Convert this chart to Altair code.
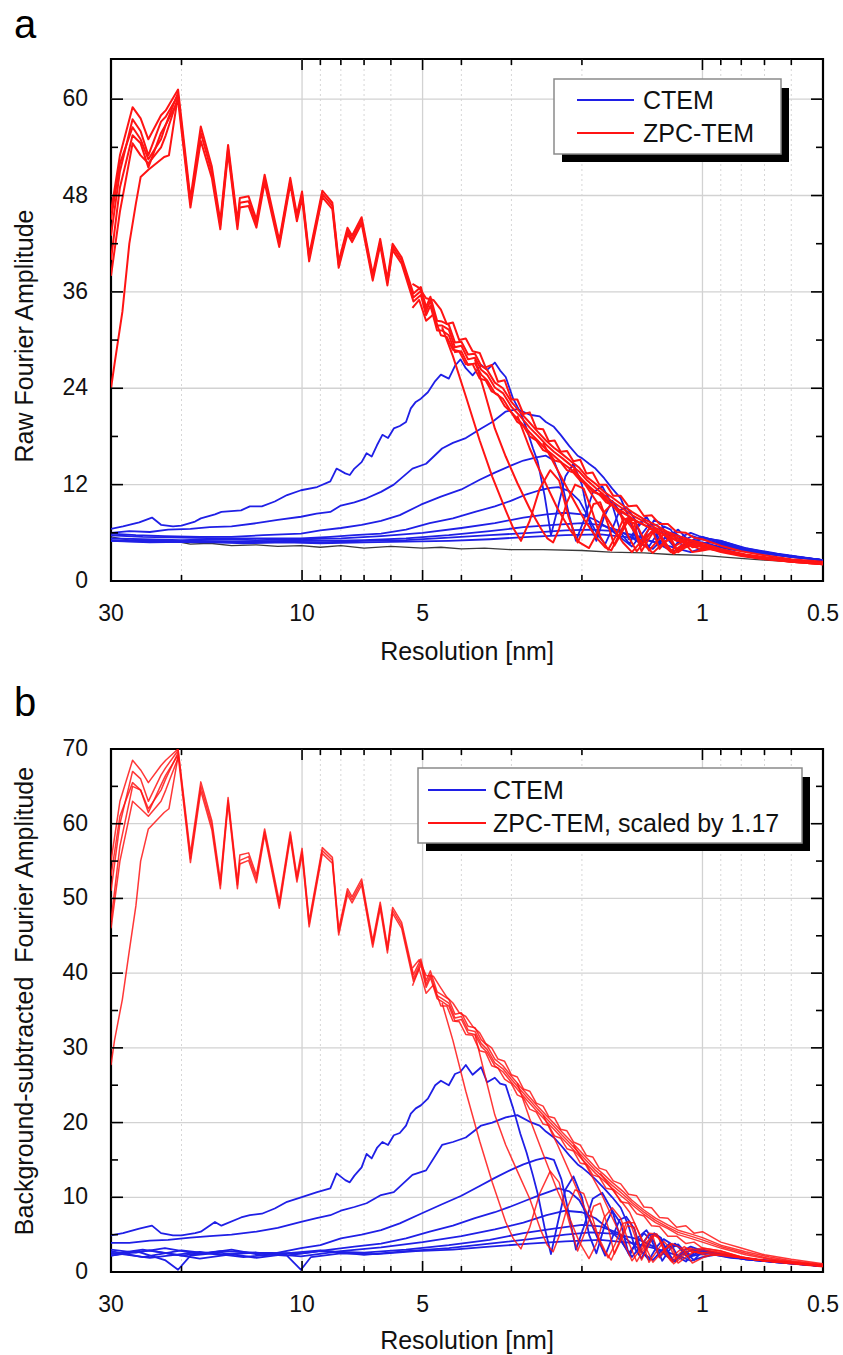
import altair as alt
import pandas as pd

FONT = "Liberation Sans"
BLUE = "#1f1fe6"
RED = "#ff1414"
BLACK = "#3a3a3a"
TXT = "#111111"

# ---------------- axis values ----------------
X_LABELS = [30, 10, 5, 1, 0.5]
X_TICK_LONG = [10, 5, 1]
X_TICK_SHORT = [20, 9, 8, 7, 6, 4, 3, 2, 0.9, 0.8, 0.7, 0.6]
X_GRID_SOLID = [10, 5, 1]
X_GRID_DOTTED = [20, 9, 8, 7, 6, 4, 3, 2, 0.9, 0.8, 0.7, 0.6]
YA_MAJOR = [0, 12, 24, 36, 48, 60]
YA_MINOR = [6, 18, 30, 42, 54]
YB_MAJOR = [0, 10, 20, 30, 40, 50, 60, 70]
YB_MINOR = [5, 15, 25, 35, 45, 55, 65]

# ---------------- shared resolution grids (nm) ----------------
RES_BUNDLE = [30, 28.5, 26.5, 25.3, 24.2, 22.5, 21.9, 20.4, 19.0, 17.9, 16.8, 16.0, 15.3, 14.5, 14.3,
              13.6, 13.0, 12.4, 11.4, 10.7, 10.3, 10.0, 9.6, 8.9, 8.4, 8.1, 7.7, 7.5, 7.1, 6.66,
              6.38, 6.12, 5.94, 5.64, 5.27, 5.05, 4.9, 4.78, 4.6, 4.47, 4.3, 4.15, 4.0, 3.85, 3.7,
              3.57, 3.45, 3.3, 3.15, 3.0, 2.85, 2.7, 2.58, 2.46, 2.35, 2.24, 2.13, 2.03, 1.94, 1.85,
              1.76, 1.68, 1.58, 1.50, 1.40, 1.31, 1.22, 1.15, 1.07, 1.0, 0.9, 0.78, 0.68, 0.6, 0.5]
RES_JITTER = [5.3, 5.1, 4.9, 4.7, 4.5, 4.35, 4.2, 4.05, 3.9, 3.75, 3.6, 3.48, 3.36, 3.24, 3.12, 3.0,
              2.9, 2.8, 2.7, 2.6, 2.5, 2.42, 2.34, 2.26, 2.18, 2.1, 2.02, 1.95, 1.88, 1.81, 1.74,
              1.67, 1.6, 1.53, 1.46, 1.4, 1.34, 1.28, 1.22, 1.16, 1.1, 1.05, 1.0, 0.9, 0.8, 0.7,
              0.6, 0.5]
RES_LOW = [30, 29.4, 28.1, 27.0, 26.0, 25.3, 24.2, 22.1, 21.5, 20.4]
RES_SPREAD = [30, 28.5, 26.5, 25.3, 24.2, 22.5, 21.9, 20.4]
RES_Z1 = [4.47, 4.2, 3.9, 3.6, 3.35, 3.1, 2.97, 2.84, 2.7, 2.55, 2.4, 2.28, 2.16, 2.05, 1.96, 1.87,
          1.8, 1.72, 1.66, 1.6, 1.54, 1.48, 1.43, 1.38, 1.33, 1.28, 1.24, 1.2, 1.16, 1.12, 1.08, 1.04,
          1.0, 0.9, 0.8, 0.7, 0.6, 0.5]
RES_Z2 = [3.7, 3.5, 3.3, 3.1, 2.9, 2.7, 2.53, 2.44, 2.36, 2.28, 2.18, 2.08, 1.98, 1.88, 1.8, 1.72,
          1.65, 1.58, 1.52, 1.47, 1.42, 1.37, 1.32, 1.28, 1.24, 1.2, 1.16, 1.11, 1.06, 1.0, 0.9, 0.8,
          0.7, 0.6, 0.5]
RES_Z3 = [2.9, 2.7, 2.5, 2.3, 2.15, 2.03, 1.92, 1.84, 1.76, 1.68, 1.6, 1.53, 1.46, 1.4, 1.34, 1.29,
          1.24, 1.19, 1.14, 1.1, 1.06, 1.02, 0.95, 0.85, 0.75, 0.65, 0.5]
RES_Z4 = [2.5, 2.3, 2.12, 1.97, 1.84, 1.75, 1.69, 1.62, 1.55, 1.48, 1.42, 1.36, 1.3, 1.25, 1.2, 1.15,
          1.1, 1.05, 1.0, 0.92, 0.8, 0.7, 0.6, 0.5]
RES_Z5 = [2.1, 1.95, 1.8, 1.68, 1.58, 1.5, 1.43, 1.36, 1.3, 1.24, 1.18, 1.13, 1.08, 1.03, 0.98, 0.9,
          0.8, 0.7, 0.6, 0.5]
RES_Z6 = [1.8, 1.65, 1.52, 1.42, 1.33, 1.26, 1.19, 1.12, 1.06, 1.0, 0.95, 0.9, 0.8, 0.7, 0.6, 0.5]
RES_C1 = [30, 28, 25.5, 23.7, 22.5, 21, 20, 18.5, 17.9, 16.5, 15.9, 14.2, 13.5, 12.6, 11.7, 10.9,
          10.06, 9.17, 8.5, 8.2, 7.8, 7.6, 7.4, 7.1, 6.9, 6.7, 6.5, 6.3, 6.1, 5.9, 5.7, 5.5, 5.35,
          5.2, 5.05, 4.85, 4.65, 4.5, 4.3, 4.15, 4.02, 3.9, 3.75, 3.57, 3.45, 3.3, 3.2, 3.1, 2.97,
          2.85, 2.75, 2.65, 2.58, 2.48, 2.39, 2.3, 2.2, 2.1, 2.0, 1.92, 1.84, 1.76, 1.68, 1.6, 1.53,
          1.46, 1.4, 1.34, 1.28, 1.22, 1.17, 1.12, 1.06, 1.0, 0.9, 0.8, 0.7, 0.6, 0.5]
RES_C2 = [30, 27, 24, 21.6, 19, 17, 15, 13, 11.5, 10.06, 9.2, 8.5, 8.0, 7.4, 6.9, 6.35, 5.9, 5.3,
          4.9, 4.47, 4.2, 3.9, 3.57, 3.35, 3.1, 2.9, 2.7, 2.55, 2.46, 2.35, 2.26, 2.15, 2.05, 2.0,
          1.92, 1.85, 1.76, 1.68, 1.6, 1.53, 1.47, 1.42, 1.37, 1.32, 1.27, 1.22, 1.17, 1.12, 1.07,
          1.02, 0.96, 0.9, 0.8, 0.7, 0.6, 0.5]
RES_C3 = [30, 26, 22, 18, 15, 12.5, 10.06, 9.0, 8.0, 7.1, 6.35, 5.7, 5.05, 4.5, 4.0, 3.6, 3.3, 3.0,
          2.8, 2.6, 2.46, 2.35, 2.25, 2.16, 2.07, 1.98, 1.88, 1.78, 1.68, 1.6, 1.52, 1.45, 1.38,
          1.32, 1.26, 1.2, 1.15, 1.1, 1.05, 1.0, 0.9, 0.78, 0.65, 0.5]
RES_C4 = [30, 25, 20, 16, 13, 10.06, 8.5, 7.4, 6.35, 5.5, 4.8, 4.2, 3.7, 3.3, 3.0, 2.75, 2.55, 2.4,
          2.29, 2.15, 2.03, 1.92, 1.83, 1.75, 1.68, 1.61, 1.55, 1.48, 1.42, 1.36, 1.3, 1.25, 1.2,
          1.15, 1.1, 1.05, 1.0, 0.9, 0.78, 0.65, 0.5]
RES_C5 = [30, 25, 20, 16, 13, 10.06, 8.0, 6.35, 5.0, 4.0, 3.3, 2.8, 2.45, 2.2, 2.0, 1.85, 1.72, 1.6,
          1.5, 1.43, 1.36, 1.3, 1.24, 1.18, 1.12, 1.06, 1.0, 0.9, 0.78, 0.65, 0.5]
RES_C6 = [30, 24, 18, 14, 11, 9, 7, 5.5, 4.3, 3.4, 2.8, 2.35, 2.0, 1.8, 1.62, 1.48, 1.4, 1.33, 1.27,
          1.21, 1.15, 1.09, 1.03, 0.95, 0.85, 0.72, 0.6, 0.5]
RES_C7 = [30, 24, 18, 14, 11, 9, 7, 5.5, 4.3, 3.4, 2.7, 2.2, 1.9, 1.65, 1.45, 1.3, 1.22, 1.18, 1.12,
          1.06, 1.0, 0.93, 0.85, 0.72, 0.6, 0.5]
RES_C8A = [30, 24, 18, 14, 11, 9, 7, 5.5, 4.3, 3.4, 2.7, 2.2, 1.8, 1.5, 1.3, 1.15, 1.07, 1.0, 0.93,
           0.85, 0.72, 0.6, 0.5]
RES_C8B = [30, 26, 22, 20.4, 19, 16, 13, 11, 10.06, 9.5, 8, 6.5, 5.2, 4.2, 3.4, 2.7, 2.2, 1.8, 1.5,
           1.3, 1.15, 1.07, 1.0, 0.93, 0.85, 0.72, 0.6, 0.5]
RES_BG = [30, 27, 24, 21, 19, 17, 15, 13, 11.5, 10.06, 9.0, 8.0, 7.0, 6.0, 5.0, 4.5, 4.0, 3.5, 3.0,
          2.5, 2.0, 1.7, 1.4, 1.2, 1.0, 0.85, 0.7, 0.6, 0.5]

# ---------------- panel a: raw amplitudes ----------------
A_ZPC_1 = [46, 53, 59.0, 57.6, 55.0, 58.0, 58.6, 61.2, 47.6, 56.6, 51.6, 44.8, 54.3, 44.8, 47.7, 47.9,
           45.0, 50.6, 42.4, 50.2, 45.6, 48.5, 40.6, 48.6, 47.1, 39.8, 44.0, 43.0, 45.3, 38.2, 42.6,
           37.6, 42.0, 40.3, 35.8, 36.6, 34.1, 35.4, 32.4, 32.3, 31.9, 29.7, 29.8, 28.2, 28.3, 26.8,
           26.3, 24.7, 24.0, 22.3, 21.0, 19.7, 18.6, 17.5, 16.6, 15.8, 14.9, 14.1, 12.9, 12.1, 11.1,
           10.4, 9.4, 8.6, 7.7, 7.0, 6.1, 5.6, 5.1, 4.7, 4.0, 3.3, 2.9, 2.6, 2.3]
A_ZPC_2 = [43, 51, 57.5, 56, 53, 57.2, 57.8, 60.5, 47, 55.8, 50.9, 44.3, 53.8, 44.3, 47.1, 47.3,
           44.5, 50.1, 42.0, 49.8, 45.2, 48.1, 40.2, 48.2, 46.7, 39.4, 43.6, 42.6, 44.9, 37.8, 42.2,
           37.2, 41.6, 39.9, 35.3, 36.1, 33.6, 34.9, 31.8, 31.8, 31.3, 29.1, 29.3, 27.6, 27.8, 26.3,
           25.7, 24.1, 23.4, 21.7, 20.5, 19.1, 18.1, 17.0, 16.1, 15.3, 14.4, 13.6, 12.5, 11.6, 10.7,
           9.9, 9.0, 8.2, 7.4, 6.6, 5.9, 5.3, 4.9, 4.5, 3.9, 3.2, 2.8, 2.5, 2.2]
A_ZPC_3 = [40, 49, 55.5, 54.5, 51.5, 55.8, 56.8, 59.8, 46.5, 54.8, 50.2, 43.8, 53.3, 43.8, 46.5, 46.7,
           44.0, 49.6, 41.6, 49.4, 44.8, 47.7, 39.8, 47.8, 46.3, 39.0, 43.2, 42.2, 44.5, 37.4, 41.8,
           36.8, 41.2, 39.5, 34.8, 35.6, 33.1, 34.3, 31.2, 31.2, 30.6, 28.5, 28.6, 26.9, 27.1, 25.7,
           25.0, 23.4, 22.7, 21.0, 19.8, 18.5, 17.5, 16.4, 15.6, 14.7, 13.9, 13.0, 12.0, 11.1, 10.3,
           9.4, 8.6, 7.8, 7.0, 6.3, 5.6, 5.0, 4.6, 4.3, 3.7, 3.1, 2.7, 2.4, 2.1]
A_ZPC_J1 = [37.0, 36.5, 35.2, 35.0, 33.8, 32.0, 32.2, 30.0, 30.2, 28.6, 28.4, 26.6, 26.9, 24.8, 25.0,
            22.6, 22.6, 20.8, 21.0, 19.0, 18.9, 17.4, 17.5, 16.1, 16.2, 14.9, 15.1, 13.4, 13.5, 12.0,
            12.0, 10.6, 10.6, 9.3, 9.4, 8.1, 8.2, 7.1, 7.1, 6.1, 6.0, 5.4, 5.2, 4.4, 3.7, 3.2, 2.7,
            2.4]
A_ZPC_J2 = [34.0, 35.0, 32.4, 33.2, 30.6, 30.4, 28.8, 28.6, 27.0, 27.0, 25.2, 25.0, 23.6, 23.2, 21.8,
            21.0, 19.8, 19.3, 18.0, 17.5, 16.3, 16.0, 15.0, 14.8, 13.8, 13.5, 12.5, 12.1, 11.1, 10.8,
            9.8, 9.4, 8.6, 8.1, 7.4, 7.0, 6.5, 6.0, 5.6, 5.0, 4.9, 4.5, 4.3, 3.6, 3.1, 2.7, 2.4, 2.1]
A_ZPC_LOW = [24, 27, 33.5, 42, 47, 50.3, 51.2, 52.8, 53.0, 60.5]
A_ZPC_S1 = [38, 46, 54.5, 53, 52, 54, 55.5, 60.2]
A_ZPC_S2 = [45, 52, 56.5, 55, 52.5, 55, 56.8, 60.8]
A_ZPC_Z1 = [31.6, 28.0, 23.0, 17.5, 13.0, 8.8, 6.6, 5.0, 7.5, 11.5, 13.8, 12.5, 8.0, 4.8, 7.0, 9.6,
            9.8, 7.0, 4.4, 5.8, 7.4, 7.2, 4.2, 5.6, 6.2, 4.0, 4.8, 5.4, 3.9, 4.3, 4.6, 4.4, 4.3,
            3.8, 3.2, 2.8, 2.4, 2.1]
A_ZPC_Z2 = [27.6, 23.5, 19.0, 15.5, 12.2, 9.0, 6.5, 5.3, 4.8, 6.5, 9.8, 12.0, 11.5, 8.5, 5.5, 3.9,
            5.5, 7.6, 7.9, 6.0, 3.7, 5.0, 6.3, 5.8, 4.3, 3.6, 4.5, 5.0, 4.2, 4.4, 3.9, 3.3, 2.9,
            2.5, 2.2]
A_ZPC_Z3 = [20.6, 16.5, 12.8, 9.0, 6.5, 4.8, 4.1, 5.8, 8.6, 9.6, 8.2, 5.5, 3.7, 4.8, 6.2, 6.0, 4.4,
            3.5, 4.3, 4.8, 4.4, 4.0, 4.0, 3.5, 3.0, 2.7, 2.2]
A_ZPC_Z4 = [17.2, 13.8, 10.5, 7.6, 5.4, 4.2, 3.8, 5.6, 7.6, 7.6, 5.8, 3.8, 4.9, 5.8, 5.0, 3.6, 4.2,
            4.6, 4.2, 3.9, 3.3, 2.9, 2.5, 2.2]
A_ZPC_Z5 = [14.0, 11.8, 9.2, 6.8, 4.8, 3.6, 4.8, 6.5, 6.4, 4.8, 3.4, 4.0, 4.7, 4.5, 4.0, 3.8, 3.3,
            2.9, 2.5, 2.2]
A_ZPC_Z6 = [11.0, 9.0, 7.0, 4.8, 3.5, 4.6, 5.6, 5.0, 3.6, 3.8, 4.0, 3.8, 3.3, 2.9, 2.5, 2.2]

A_CTEM_1 = [6.5, 6.8, 7.3, 7.9, 7.0, 6.8, 6.9, 7.4, 7.8, 8.3, 8.6, 8.8, 9.3, 9.3, 9.9, 10.7, 11.3,
            11.7, 12.4, 14.0, 13.4, 13.2, 14.0, 14.8, 15.9, 15.5, 16.9, 18.2, 17.8, 19.0, 19.3,
            19.8, 21.5, 22.3, 22.7, 23.5, 24.9, 25.7, 25.2, 26.8, 27.6, 26.5, 25.6, 26.9, 26.3,
            27.2, 26.2, 25.4, 22.7, 21.0, 19.0, 16.5, 14.9, 10.7, 5.7, 9.0, 13.0, 14.6, 12.0, 7.5,
            5.0, 8.0, 10.0, 8.5, 5.2, 6.5, 7.6, 6.5, 4.8, 5.6, 6.0, 5.2, 5.0, 5.2, 4.5, 3.9, 3.4,
            3.0, 2.6]
A_CTEM_2 = [6.0, 6.2, 6.1, 6.4, 6.5, 6.7, 6.8, 7.2, 7.6, 8.0, 8.4, 8.6, 9.4, 9.8, 10.3, 11.1, 12.0,
            14.0, 14.6, 16.5, 17.2, 17.8, 19.0, 19.8, 21.1, 21.4, 20.7, 20.5, 19.8, 19.2, 18.2,
            16.8, 15.6, 15.3, 14.6, 14.0, 12.8, 11.5, 10.3, 8.0, 5.5, 4.6, 6.2, 7.6, 7.2, 5.2, 4.4,
            5.6, 6.0, 5.6, 5.2, 5.0, 4.2, 3.6, 3.1, 2.6]
A_CTEM_3 = [5.9, 5.7, 5.6, 5.5, 5.5, 5.7, 5.9, 6.3, 6.6, 7.0, 7.5, 8.2, 9.5, 10.5, 11.4, 12.6, 13.5,
            14.4, 15.0, 15.4, 15.6, 15.0, 12.5, 8.5, 5.0, 7.5, 11.0, 11.8, 9.5, 6.0, 4.6, 7.0, 8.0,
            6.5, 4.4, 5.8, 6.4, 5.4, 4.6, 5.4, 5.0, 4.1, 3.4, 2.6]
A_CTEM_4 = [5.7, 5.5, 5.4, 5.3, 5.3, 5.3, 5.5, 5.7, 5.9, 6.4, 7.2, 7.8, 8.6, 9.3, 10.0, 10.8, 11.3,
            11.6, 11.7, 11.2, 10.0, 7.8, 5.8, 4.6, 6.5, 8.8, 9.2, 7.8, 5.4, 4.3, 5.8, 6.8, 6.4, 4.8,
            4.3, 5.2, 5.5, 4.8, 4.0, 3.3, 2.6]
A_CTEM_5 = [5.3, 5.2, 5.1, 5.2, 5.1, 5.2, 5.3, 5.6, 6.0, 6.6, 7.2, 7.9, 8.3, 8.5, 8.3, 7.6, 6.6, 5.4,
            4.3, 5.6, 7.0, 7.0, 5.6, 4.3, 5.0, 5.6, 5.2, 4.7, 4.0, 3.3, 2.6]
A_CTEM_6 = [5.1, 5.0, 5.0, 4.9, 5.0, 5.0, 5.1, 5.3, 5.7, 6.2, 6.7, 7.0, 7.2, 7.0, 6.3, 5.2, 4.4, 4.0,
            5.0, 5.9, 5.6, 4.5, 4.6, 4.8, 4.3, 3.6, 3.0, 2.6]
A_CTEM_7 = [5.0, 4.9, 4.8, 4.8, 4.9, 4.8, 5.0, 5.1, 5.4, 5.7, 6.0, 6.3, 6.4, 6.2, 5.6, 4.7, 4.0, 3.7,
            4.4, 4.9, 4.8, 4.4, 4.0, 3.5, 3.0, 2.6]
A_CTEM_8 = [5.0, 4.8, 4.9, 4.7, 4.8, 4.7, 4.8, 4.9, 5.0, 5.2, 5.5, 5.7, 5.8, 5.4, 4.8, 4.0, 3.6, 4.1,
            4.3, 3.9, 3.5, 3.0, 2.6]
A_BACKGROUND = [5.5, 5.1, 4.8, 5.0, 4.6, 4.7, 4.4, 4.5, 4.3, 4.4, 4.2, 4.4, 4.1, 4.3, 4.1, 4.2, 4.0,
                4.1, 3.9, 3.9, 3.8, 3.6, 3.5, 3.3, 3.2, 2.9, 2.6, 2.4, 2.2]

# ---------------- panel b: background-subtracted ----------------
B_ZPC_1 = [55, 63, 68.5, 67.2, 65.5, 67.8, 68.5, 70, 56.0, 65.6, 60.4, 52.4, 63.5, 52.3, 55.8, 56.1,
           53.1, 59.3, 49.6, 58.9, 53.0, 56.7, 47.0, 56.8, 55.5, 45.9, 51.3, 50.2, 52.6, 44.3, 49.5,
           43.5, 48.8, 46.8, 39.8, 41.9, 39.0, 40.3, 37.5, 37.1, 36.5, 34.5, 34.7, 32.9, 32.7, 31.1,
           30.3, 28.5, 27.6, 26.2, 24.8, 23.4, 22.2, 21.0, 19.9, 18.7, 17.5, 16.3, 15.2, 14.0, 13.0,
           12.0, 10.8, 9.6, 8.3, 7.2, 6.3, 5.6, 5.1, 4.6, 3.6, 2.7, 2.0, 1.5, 1.0]
B_ZPC_2 = [51, 60, 67, 66, 63, 66.5, 67.5, 69.8, 55.3, 65, 59.8, 51.8, 63.1, 51.8, 55.1, 55.6, 52.6,
           58.9, 49.1, 58.5, 52.6, 56.2, 46.6, 56.4, 55.1, 45.5, 50.9, 49.8, 52.2, 43.9, 49.1, 43.1,
           48.4, 46.4, 39.3, 41.5, 38.5, 39.8, 37.0, 36.6, 36.0, 34.0, 34.2, 32.4, 32.2, 30.6, 29.8,
           28.0, 27.2, 25.8, 24.4, 23.0, 21.8, 20.6, 19.5, 18.3, 17.1, 15.9, 14.8, 13.6, 12.6, 11.6,
           10.4, 9.3, 8.0, 6.9, 6.0, 5.3, 4.8, 4.3, 3.4, 2.5, 1.8, 1.4, 0.9]
B_ZPC_3 = [47, 57, 65, 64.5, 61.5, 65.2, 66.5, 69.2, 54.8, 64.4, 59.2, 51.3, 62.7, 51.3, 54.6, 55.1,
           52.1, 58.5, 48.7, 58.1, 52.2, 55.8, 46.2, 56.0, 54.7, 45.1, 50.5, 49.4, 51.8, 43.5, 48.7,
           42.7, 48.0, 46.0, 38.9, 41.1, 38.1, 39.4, 36.6, 36.2, 35.6, 33.6, 33.8, 32.0, 31.8, 30.2,
           29.4, 27.6, 26.8, 25.4, 24.0, 22.6, 21.4, 20.2, 19.1, 17.9, 16.7, 15.5, 14.4, 13.2, 12.2,
           11.2, 10.0, 9.0, 7.7, 6.6, 5.8, 5.0, 4.5, 4.0, 3.2, 2.3, 1.7, 1.3, 0.8]
B_ZPC_J1 = [40.7, 41.8, 39.7, 39.6, 38.0, 36.8, 36.0, 34.7, 34.2, 32.9, 32.0, 30.6, 30.0, 28.5, 28.2,
            26.4, 26.1, 24.5, 24.2, 22.6, 22.2, 20.8, 20.6, 19.1, 18.9, 17.4, 17.0, 15.6, 15.4, 13.9,
            13.6, 12.2, 11.8, 10.4, 10.2, 8.7, 8.6, 7.3, 7.2, 6.0, 6.2, 5.2, 5.4, 4.0, 3.2, 2.3, 1.7,
            1.1]
B_ZPC_J2 = [38.3, 40.6, 37.3, 38.4, 35.6, 35.6, 33.6, 33.5, 31.8, 31.7, 29.6, 29.4, 27.6, 27.3, 25.8,
            25.2, 23.7, 23.3, 21.8, 21.4, 19.8, 19.6, 18.2, 17.9, 16.5, 16.2, 14.6, 14.4, 13.0, 12.7,
            11.2, 11.0, 9.4, 9.2, 7.8, 7.5, 6.2, 6.1, 4.8, 4.8, 3.8, 4.0, 3.2, 2.8, 2.0, 1.5, 1.1,
            0.7]
B_ZPC_LOW = [27.7, 31, 36.5, 43, 49, 55, 59.3, 61.5, 62, 69]
B_ZPC_S1 = [46, 55, 63, 62, 61, 63, 64.5, 68.8]
B_ZPC_S2 = [53, 61, 65.5, 64.5, 62, 64.5, 66, 69.5]
B_ZPC_Z1 = [36.0, 31.0, 24.2, 17.5, 12.0, 6.7, 4.5, 3.1, 6.0, 10.5, 13.5, 12.0, 7.0, 2.8, 5.5, 8.8,
            9.2, 6.0, 2.4, 4.2, 6.2, 6.0, 2.6, 4.0, 4.8, 1.9, 3.0, 3.8, 1.8, 2.4, 3.2, 3.0, 3.2,
            2.8, 2.0, 1.6, 1.3, 0.9]
B_ZPC_Z2 = [31.8, 26.5, 21.0, 17.0, 13.5, 9.8, 5.5, 3.6, 2.7, 4.8, 8.5, 11.0, 10.5, 7.2, 3.8, 1.9,
            3.8, 6.5, 6.8, 4.6, 1.6, 3.3, 5.0, 4.4, 2.5, 1.5, 2.6, 3.4, 2.6, 3.0, 2.6, 1.9, 1.5,
            1.2, 0.8]
B_ZPC_Z3 = [25.3, 20.5, 15.8, 10.8, 7.3, 4.0, 1.8, 3.8, 7.3, 8.6, 7.2, 4.0, 1.4, 3.0, 4.9, 4.7, 2.6,
            1.3, 2.5, 3.2, 2.9, 2.5, 2.7, 2.3, 1.7, 1.3, 0.8]
B_ZPC_Z4 = [21.0, 17.0, 12.7, 8.6, 5.2, 2.8, 1.6, 3.8, 6.6, 6.6, 4.4, 1.3, 2.8, 4.1, 3.1, 1.2, 2.0,
            2.7, 2.6, 2.4, 1.9, 1.5, 1.2, 0.8]
B_ZPC_Z5 = [17.0, 14.2, 10.8, 7.3, 4.3, 1.5, 3.0, 5.2, 5.1, 3.0, 1.1, 1.9, 2.8, 2.6, 2.2, 2.3, 1.9,
            1.5, 1.2, 0.8]
B_ZPC_Z6 = [13.2, 10.5, 8.0, 4.5, 1.3, 2.7, 3.8, 3.1, 1.2, 1.9, 2.3, 2.2, 1.9, 1.5, 1.2, 0.8]

B_CTEM_1 = [4.9, 5.2, 5.8, 6.2, 5.2, 4.9, 4.9, 5.2, 5.4, 6.7, 6.2, 7.3, 7.6, 7.8, 8.5, 9.4, 10.0,
            10.7, 11.2, 13.2, 12.3, 12.0, 12.9, 14.0, 15.8, 15.2, 16.6, 17.4, 17.0, 18.3, 18.6,
            19.6, 21.2, 21.9, 22.3, 23.2, 25.0, 25.6, 25.0, 26.5, 26.8, 27.7, 26.4, 27.4, 25.4,
            26.0, 25.2, 25.0, 21.9, 18.5, 16.0, 12.9, 10.5, 6.0, 2.4, 6.5, 11.0, 12.8, 10.0, 5.0,
            2.5, 6.0, 8.2, 6.5, 2.5, 3.8, 5.2, 4.2, 2.0, 3.2, 3.8, 2.8, 2.2, 2.9, 2.3, 1.9, 1.5,
            1.2, 0.8]
B_CTEM_2 = [3.9, 3.9, 4.2, 4.3, 4.6, 4.8, 5.0, 5.4, 5.9, 6.7, 7.2, 7.6, 8.2, 8.7, 9.2, 10.3, 10.7,
            13.0, 13.6, 17.0, 17.4, 18.0, 19.6, 20.0, 20.7, 21.0, 20.1, 19.6, 18.8, 18.0, 17.0,
            15.6, 14.4, 14.0, 13.2, 12.4, 11.2, 10.0, 8.6, 6.2, 3.0, 1.8, 3.6, 5.2, 4.6, 2.4, 1.4,
            2.8, 3.4, 3.0, 2.6, 2.4, 1.9, 1.5, 1.2, 0.8]
B_CTEM_3 = [3.0, 2.6, 3.2, 2.4, 3.0, 2.2, 3.2, 3.6, 4.5, 5.0, 5.6, 6.5, 7.8, 9.0, 10.2, 11.5, 12.6,
            13.7, 14.4, 15.0, 15.3, 15.0, 12.4, 8.0, 3.0, 6.0, 9.8, 10.6, 8.2, 4.4, 2.2, 4.6, 5.6,
            4.0, 1.5, 3.2, 3.7, 2.6, 1.6, 2.8, 2.3, 1.7, 1.3, 0.8]
B_CTEM_4 = [2.4, 3.0, 2.2, 2.8, 2.6, 2.5, 3.0, 3.4, 3.8, 4.5, 5.4, 6.2, 7.2, 8.0, 8.8, 9.6, 10.3,
            10.8, 11.2, 10.8, 9.6, 7.2, 4.6, 2.2, 4.6, 7.0, 7.4, 5.8, 2.8, 1.6, 3.4, 4.4, 3.8, 2.0,
            1.4, 2.6, 3.0, 2.4, 1.7, 1.3, 0.8]
B_CTEM_5 = [2.8, 2.0, 2.9, 2.3, 2.6, 2.1, 2.8, 3.3, 4.0, 4.8, 5.7, 6.6, 7.6, 8.2, 8.0, 7.2, 5.8, 4.2,
            2.0, 3.4, 5.0, 5.0, 3.4, 1.4, 2.4, 3.0, 2.6, 2.3, 1.7, 1.3, 0.8]
B_CTEM_6 = [2.2, 2.9, 1.8, 2.6, 2.2, 2.8, 2.6, 3.0, 3.6, 4.3, 5.2, 5.8, 6.3, 6.1, 5.2, 3.6, 2.4, 1.6,
            2.8, 3.8, 3.4, 2.0, 2.3, 2.5, 2.1, 1.6, 1.2, 0.8]
B_CTEM_7 = [2.6, 1.9, 2.7, 2.0, 2.5, 2.9, 2.3, 2.8, 3.2, 3.8, 4.4, 5.0, 5.3, 5.1, 4.4, 3.2, 2.0, 1.5,
            2.4, 3.0, 2.8, 2.3, 1.9, 1.6, 1.2, 0.8]
B_CTEM_8 = [2.2, 2.8, 1.6, 0.3, 2.2, 2.6, 1.9, 2.4, 0.3, 2.0, 2.5, 2.4, 2.8, 3.0, 3.4, 3.8, 4.1, 4.3,
            3.9, 3.1, 2.2, 1.5, 2.0, 2.3, 2.0, 1.6, 1.2, 0.8]

PANEL_A = [
    ("bg", "bg", RES_BG, A_BACKGROUND),
    ("c1", "ctem", RES_C1, A_CTEM_1), ("c2", "ctem", RES_C2, A_CTEM_2),
    ("c3", "ctem", RES_C3, A_CTEM_3), ("c4", "ctem", RES_C4, A_CTEM_4),
    ("c5", "ctem", RES_C5, A_CTEM_5), ("c6", "ctem", RES_C6, A_CTEM_6),
    ("c7", "ctem", RES_C7, A_CTEM_7), ("c8", "ctem", RES_C8A, A_CTEM_8),
    ("z_1", "zpc", RES_BUNDLE, A_ZPC_1), ("z_2", "zpc", RES_BUNDLE, A_ZPC_2),
    ("z_3", "zpc", RES_BUNDLE, A_ZPC_3), ("z_j1", "zpc", RES_JITTER, A_ZPC_J1),
    ("z_j2", "zpc", RES_JITTER, A_ZPC_J2), ("z_low", "zpc", RES_LOW, A_ZPC_LOW),
    ("z_s1", "zpc", RES_SPREAD, A_ZPC_S1), ("z_s2", "zpc", RES_SPREAD, A_ZPC_S2),
    ("z_z1", "zpc", RES_Z1, A_ZPC_Z1), ("z_z2", "zpc", RES_Z2, A_ZPC_Z2),
    ("z_z3", "zpc", RES_Z3, A_ZPC_Z3), ("z_z4", "zpc", RES_Z4, A_ZPC_Z4),
    ("z_z5", "zpc", RES_Z5, A_ZPC_Z5), ("z_z6", "zpc", RES_Z6, A_ZPC_Z6),
]
PANEL_B = [
    ("c1", "ctem", RES_C1, B_CTEM_1), ("c2", "ctem", RES_C2, B_CTEM_2),
    ("c3", "ctem", RES_C3, B_CTEM_3), ("c4", "ctem", RES_C4, B_CTEM_4),
    ("c5", "ctem", RES_C5, B_CTEM_5), ("c6", "ctem", RES_C6, B_CTEM_6),
    ("c7", "ctem", RES_C7, B_CTEM_7), ("c8", "ctem", RES_C8B, B_CTEM_8),
    ("z_1", "zpc", RES_BUNDLE, B_ZPC_1), ("z_2", "zpc", RES_BUNDLE, B_ZPC_2),
    ("z_3", "zpc", RES_BUNDLE, B_ZPC_3), ("z_j1", "zpc", RES_JITTER, B_ZPC_J1),
    ("z_j2", "zpc", RES_JITTER, B_ZPC_J2), ("z_low", "zpc", RES_LOW, B_ZPC_LOW),
    ("z_s1", "zpc", RES_SPREAD, B_ZPC_S1), ("z_s2", "zpc", RES_SPREAD, B_ZPC_S2),
    ("z_z1", "zpc", RES_Z1, B_ZPC_Z1), ("z_z2", "zpc", RES_Z2, B_ZPC_Z2),
    ("z_z3", "zpc", RES_Z3, B_ZPC_Z3), ("z_z4", "zpc", RES_Z4, B_ZPC_Z4),
    ("z_z5", "zpc", RES_Z5, B_ZPC_Z5), ("z_z6", "zpc", RES_Z6, B_ZPC_Z6),
]


def curve_df(curves):
    rows = []
    for name, kind, res, amp in curves:
        assert len(res) == len(amp), name
        for i, (r, a) in enumerate(zip(res, amp)):
            rows.append({"curve": name, "kind": kind, "res": r, "amp": a, "i": i})
    return pd.DataFrame(rows)


W = 712
ONE = pd.DataFrame({"k": [0]})


def build_panel(curves, ymax, ymajor, yminor, H, ytitle, ytitle_y, letter, letter_y,
                leg, red_w, red_op, xtitle_dy):
    df = curve_df(curves)
    xs = alt.Scale(type="log", domain=[0.5, 30], reverse=True, nice=False)
    ys = alt.Scale(domain=[0, ymax], nice=False, zero=False)
    X = lambda f: alt.X(f, scale=xs, axis=None)
    Y = lambda f: alt.Y(f, scale=ys, axis=None)

    layers = []
    layers.append(alt.Chart(pd.DataFrame({"v": X_GRID_SOLID})).mark_rule(
        color="#d2d2d2", strokeWidth=1.3).encode(x=X("v:Q")))
    layers.append(alt.Chart(pd.DataFrame({"v": X_GRID_DOTTED})).mark_rule(
        color="#d6d6d6", strokeWidth=1, strokeDash=[2, 3]).encode(x=X("v:Q")))
    layers.append(alt.Chart(pd.DataFrame({"v": [v for v in ymajor if 0 < v < ymax]})).mark_rule(
        color="#d2d2d2", strokeWidth=1.3).encode(y=Y("v:Q")))

    def line_layer(kind, color, width, opacity):
        sub = df[df["kind"] == kind]
        return alt.Chart(sub).mark_line(color=color, strokeWidth=width, opacity=opacity,
                                        clip=True, strokeJoin="round").encode(
            x=X("res:Q"), y=Y("amp:Q"), detail="curve:N", order="i:Q")

    if (df["kind"] == "bg").any():
        layers.append(line_layer("bg", BLACK, 1.3, 1.0))
    layers.append(line_layer("ctem", BLUE, 1.8, 1.0))
    layers.append(line_layer("zpc", RED, red_w, red_op))

    def xt(vals, length):
        d = pd.DataFrame({"v": vals})
        bot = alt.Chart(d).mark_rule(color="black", strokeWidth=1.6).encode(
            x=X("v:Q"), y=alt.value(H), y2=alt.value(H - length))
        top = alt.Chart(d).mark_rule(color="black", strokeWidth=1.6).encode(
            x=X("v:Q"), y=alt.value(0), y2=alt.value(length))
        return [bot, top]

    def yt(vals, length):
        d = pd.DataFrame({"v": vals})
        left = alt.Chart(d).mark_rule(color="black", strokeWidth=1.6).encode(
            y=Y("v:Q"), x=alt.value(0), x2=alt.value(length))
        right = alt.Chart(d).mark_rule(color="black", strokeWidth=1.6).encode(
            y=Y("v:Q"), x=alt.value(W), x2=alt.value(W - length))
        return [left, right]

    layers += xt(X_TICK_LONG, 11) + xt(X_TICK_SHORT, 6)
    layers += yt(ymajor, 12) + yt(yminor, 7)

    # tick labels placed through the scales
    xl = pd.DataFrame({"v": X_LABELS, "t": [f"{v:g}" for v in X_LABELS]})
    layers.append(alt.Chart(xl).mark_text(
        fontSize=23, font=FONT, color=TXT, align="center", baseline="middle").encode(
        x=X("v:Q"), y=alt.value(H + 33), text="t:N"))
    yl = pd.DataFrame({"v": ymajor, "t": [f"{v:g}" for v in ymajor]})
    layers.append(alt.Chart(yl).mark_text(
        fontSize=23, font=FONT, color=TXT, align="right", baseline="middle").encode(
        y=Y("v:Q"), x=alt.value(-23), text="t:N"))
    # axis titles
    layers.append(alt.Chart(ONE).mark_text(
        text="Resolution [nm]", fontSize=25, font=FONT, color=TXT, align="center",
        baseline="middle").encode(x=alt.value(W / 2), y=alt.value(H + xtitle_dy)))
    layers.append(alt.Chart(ONE).mark_text(
        text=ytitle, fontSize=25, font=FONT, color=TXT, align="center", baseline="middle",
        angle=270).encode(x=alt.value(-86), y=alt.value(ytitle_y)))

    # legend box with drop shadow
    layers.append(alt.Chart(ONE).mark_rect(color="black").encode(
        x=alt.value(leg["x1"] + 8), x2=alt.value(leg["x2"] + 8),
        y=alt.value(leg["y1"] + 9), y2=alt.value(leg["y2"] + 8)))
    layers.append(alt.Chart(ONE).mark_rect(fill="white", stroke="#8a8a8a", strokeWidth=1.5).encode(
        x=alt.value(leg["x1"]), x2=alt.value(leg["x2"]),
        y=alt.value(leg["y1"]), y2=alt.value(leg["y2"])))
    for color, yy, label in [(BLUE, leg["ya"], "CTEM"), (RED, leg["yb"], leg["label"])]:
        layers.append(alt.Chart(ONE).mark_rule(color=color, strokeWidth=2).encode(
            x=alt.value(leg["lx1"]), x2=alt.value(leg["lx2"]), y=alt.value(yy)))
        layers.append(alt.Chart(ONE).mark_text(
            text=label, align="left", baseline="middle", fontSize=25, font=FONT,
            color=TXT).encode(x=alt.value(leg["tx"]), y=alt.value(yy + 1)))

    layers.append(alt.Chart(ONE).mark_text(
        text=letter, align="center", baseline="middle", fontSize=40, font=FONT,
        color="black").encode(x=alt.value(-86), y=alt.value(letter_y)))

    return alt.layer(*layers).properties(width=W, height=H)


LEG_A = dict(x1=443, x2=670, y1=20, y2=95, lx1=466, lx2=523, ya=41, yb=74, tx=532,
             label="ZPC-TEM")
LEG_B = dict(x1=307, x2=691, y1=19, y2=94, lx1=317, lx2=375, ya=41, yb=74, tx=382,
             label="ZPC-TEM, scaled by 1.17")

panel_a = build_panel(PANEL_A, 65, YA_MAJOR, YA_MINOR, 522, "Raw Fourier Amplitude", 277,
                      "a", -33, LEG_A, 2.0, 1.0, 71)
panel_b = build_panel(PANEL_B, 70, YB_MAJOR, YB_MINOR, 523,
                      "Background-subtracted\u00a0 Fourier Amplitude", 252,
                      "b", -45, LEG_B, 1.5, 0.85, 69)

chart = alt.vconcat(panel_a, panel_b, spacing=15).properties(
    padding={"left": 11, "top": 4, "right": 0, "bottom": 0}
).configure(font=FONT, background="white").configure_view(
    stroke="black", strokeWidth=2.2
)

chart.save("out.html", embed_options={"renderer": "svg", "actions": False})
